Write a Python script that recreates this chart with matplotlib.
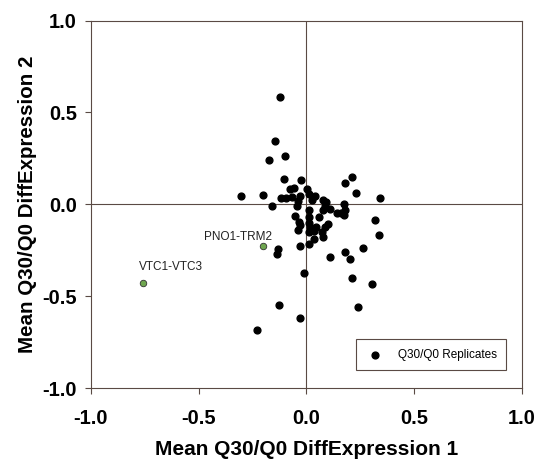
import numpy as np
import matplotlib.pyplot as plt

plt.rcParams['font.family'] = ['Liberation Sans', 'DejaVu Sans']

# replicate points (x = DiffExpression 1, y = DiffExpression 2)
rep_x = [-0.124, -0.144, -0.099, -0.176, -0.102, -0.026, 0.210, 0.178, 0.232, 0.340,
         -0.305, -0.201, -0.159, -0.076, -0.056, -0.117, -0.097, -0.068, -0.028, 0.003,
         0.011, 0.040, -0.037, -0.043, 0.026, 0.079, 0.091, 0.110, 0.144, 0.175,
         0.181, 0.172, 0.079, 0.088, 0.057, 0.011, 0.011, 0.011, -0.054, -0.036,
         -0.029, -0.037, 0.017, 0.045, 0.099, 0.088, 0.014, 0.037, 0.073, 0.076,
         0.034, 0.011, -0.032, -0.133, -0.138, 0.317, 0.337, 0.261, 0.178, 0.200,
         0.111, -0.011, 0.210, 0.305, -0.127, -0.032, -0.229, 0.240, 0.160]
rep_y = [0.583, 0.342, 0.265, 0.243, 0.140, 0.130, 0.150, 0.118, 0.062, 0.033,
         0.045, 0.053, -0.011, 0.085, 0.091, 0.033, 0.033, 0.038, 0.043, 0.082,
         0.058, 0.047, 0.018, -0.007, 0.025, 0.025, 0.011, -0.027, -0.045, 0.000,
         -0.033, -0.060, -0.033, -0.011, -0.069, -0.033, -0.069, -0.101, -0.065, -0.096,
         -0.114, -0.141, -0.124, -0.124, -0.105, -0.124, -0.150, -0.145, -0.150, -0.178,
         -0.187, -0.217, -0.227, -0.241, -0.268, -0.087, -0.165, -0.237, -0.259, -0.299,
         -0.286, -0.373, -0.402, -0.435, -0.547, -0.621, -0.685, -0.558, -0.050]

# highlighted gene pairs
pair_names = ["PNO1-TRM2", "VTC1-VTC3"]
pair_x = [-0.200, -0.760]
pair_y = [-0.227, -0.428]
label_offsets = [(-18, 6.5), (20, 11.5)]

axis_col = '#5a4a44'

fig = plt.figure(figsize=(5.4, 4.62), dpi=100)
ax = fig.add_axes([0.1685, 0.160, 0.798, 0.7956])

ax.axhline(0, color=axis_col, lw=0.8, zorder=1)
ax.axvline(0, color=axis_col, lw=0.8, zorder=1)

ax.scatter(rep_x, rep_y, s=24, color='black', zorder=3, label='Q30/Q0 Replicates')
ax.scatter(pair_x, pair_y, s=22, color='#6fa64f', edgecolor='#333333', linewidth=0.6, zorder=3)

for name, x, y, off in zip(pair_names, pair_x, pair_y, label_offsets):
    ax.annotate(name, (x, y), xytext=off, textcoords='offset points',
                ha='center', va='center', fontsize=8.5, color='#222222')

ax.set_xlim(-1, 1)
ax.set_ylim(-1, 1)
ax.set_xticks(np.arange(-1, 1.01, 0.5))
ax.set_yticks(np.arange(-1, 1.01, 0.5))
ax.xaxis.set_major_formatter(plt.FormatStrFormatter('%.1f'))
ax.yaxis.set_major_formatter(plt.FormatStrFormatter('%.1f'))
ax.tick_params(direction='out', length=4, width=0.8, color=axis_col, labelsize=14.5)
ax.tick_params(axis='x', pad=11)
ax.tick_params(axis='y', pad=6)
for lab in ax.get_xticklabels() + ax.get_yticklabels():
    lab.set_fontweight('bold')
for sp in ax.spines.values():
    sp.set_color(axis_col)
    sp.set_linewidth(0.8)

ax.set_xlabel("Mean Q30/Q0 DiffExpression 1", fontsize=15, fontweight='bold', labelpad=9)
ax.set_ylabel("Mean Q30/Q0 DiffExpression 2", fontsize=14.8, fontweight='bold', labelpad=4)

leg = ax.legend(loc='lower right', bbox_to_anchor=(0.963, 0.049), fontsize=8.5,
                fancybox=False, edgecolor=axis_col, handletextpad=1.1,
                borderpad=0.8, handlelength=1.6, borderaxespad=0, framealpha=1)
leg.get_frame().set_linewidth(0.8)

fig.savefig('out.png', dpi=100)
